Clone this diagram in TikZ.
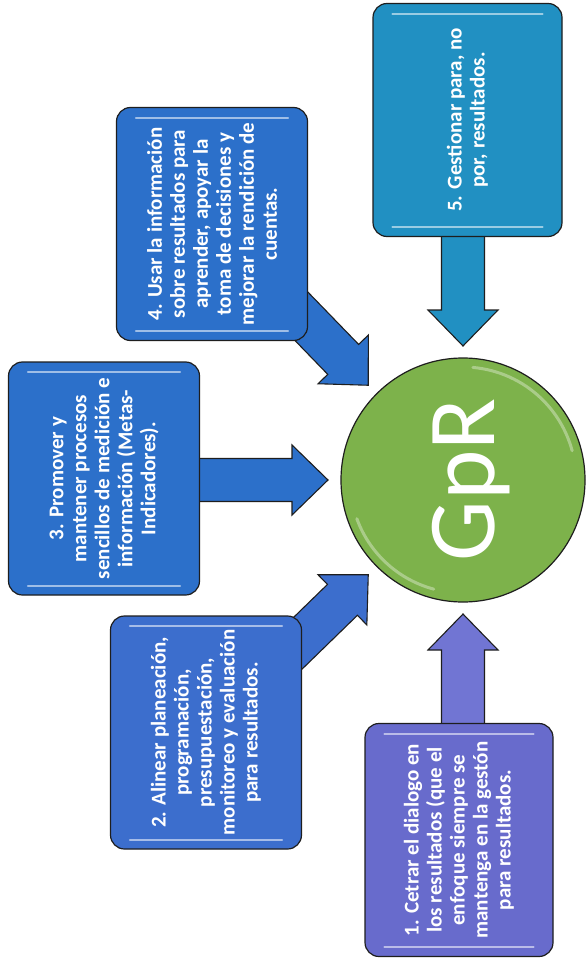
\documentclass[tikz,border=0pt]{standalone}
\usepackage{fontspec}
\setmainfont{Carlito}
\usetikzlibrary{calc}
\pgfdeclarelayer{background}
\pgfsetlayers{background,main}
\definecolor{edgec}{HTML}{1E1E1E}
\definecolor{tealc}{HTML}{2190C2}
\definecolor{bluec}{HTML}{2C70CA}
\definecolor{blueb}{HTML}{3C6ECD}
\definecolor{purpc}{HTML}{686BCC}
\definecolor{purpa}{HTML}{7175D3}
\definecolor{greenc}{HTML}{7DB24B}
\newcommand\boxfont{\bfseries\fontsize{21}{23}\selectfont}
\newcommand\blockarrow[3]{%
  \coordinate (ba-h) at ($(#2)!36pt!(#1)$);
  \draw[arrowline, fill=#3] ($(#1)!21.5pt!90:(#2)$) -- ($(ba-h)!21.5pt!90:(#2)$) -- ($(ba-h)!35pt!90:(#2)$) -- (#2) -- ($(ba-h)!35pt!-90:(#2)$) -- ($(ba-h)!21.5pt!-90:(#2)$) -- ($(#1)!21.5pt!-90:(#2)$) -- cycle;}
\newcommand\glossbox[1]{%
  \draw[glossline] ($(#1.north east)+(20,11)$) -- ($(#1.south east)+(-20,11)$);
  \draw[glossline] ($(#1.north west)+(20,-10)$) -- ($(#1.south west)+(-20,-10)$);}
\begin{document}
\begin{tikzpicture}[x=1pt, y=-1pt,
  stepbox/.style={rotate=90, rounded corners=14pt, draw=edgec, line width=1.2pt,
    minimum width=233pt, minimum height=191pt, inner sep=0pt, align=center,
    text=white, font=\boxfont},
  arrowline/.style={draw=edgec, line width=1.1pt, line join=miter},
  glossline/.style={white, opacity=0.55, line width=2pt, line cap=round}]
\useasboundingbox (0,0) rectangle (588,973);

% boxes
\node[stepbox, fill=tealc, minimum height=189pt] (b5) at (467.5,120) {5. Gestionar para, no\\por, resultados.};
\node[stepbox, fill=bluec] (b4) at (212,224) {4. Usar la información\\sobre resultados para\\aprender, apoyar la\\toma de decisiones y\\mejorar la rendición de\\cuentas.};
\node[stepbox, fill=bluec] (b3) at (104,478.5) {3. Promover y\\mantener procesos\\sencillos de medición e\\información (Metas-\\Indicadores).};
\node[stepbox, fill=blueb] (b2) at (206,732.5) {2. Alinear planeación,\\programación,\\presupuestación,\\monitoreo y evaluación\\para resultados.};
\node[stepbox, fill=purpc, minimum height=188pt] (b1) at (459,840) {1. Cetrar el dialogo en\\los resultados (que el\\enfoque siempre se\\mantenga en la gestón\\para resultados.};

\glossbox{b5}\glossbox{b4}\glossbox{b3}\glossbox{b2}\glossbox{b1}

% centre circle
\node[circle, draw=edgec, line width=1.2pt, fill=greenc, minimum size=244pt, inner sep=0pt,
  text=white, font=\fontsize{96}{100}\selectfont, text height=62pt, text depth=0pt, rotate=90] (gpr) at (463,480) {GpR};
\draw[white, opacity=0.35, line width=3pt, line cap=round, shift={(gpr.center)}] plot[domain=15:85, samples=30] (\x:113pt);
\draw[white, opacity=0.35, line width=3pt, line cap=round, shift={(gpr.center)}] plot[domain=200:255, samples=30] (\x:113pt);

% arrow tips and starts
\coordinate (t5) at ($(gpr.center)+(90:134pt)$);
\coordinate (t4) at ($(gpr.center)+(135:134pt)$);
\coordinate (t3) at ($(gpr.center)+(180:135pt)$);
\coordinate (t2) at ($(gpr.center)+(225:134pt)$);
\coordinate (t1) at ($(gpr.center)+(270:134pt)$);
\coordinate (s5) at (b5.center -| t5);
\coordinate (s3) at (b3.center |- t3);
\coordinate (s1) at (b1.center -| t1);

\begin{pgfonlayer}{background}
\fill[white] (0,0) rectangle (588,973);
\blockarrow{s5}{t5}{tealc}
\blockarrow{b4.center}{t4}{bluec}
\blockarrow{s3}{t3}{bluec}
\blockarrow{b2.center}{t2}{blueb}
\blockarrow{s1}{t1}{purpa}
\end{pgfonlayer}
\end{tikzpicture}
\end{document}
